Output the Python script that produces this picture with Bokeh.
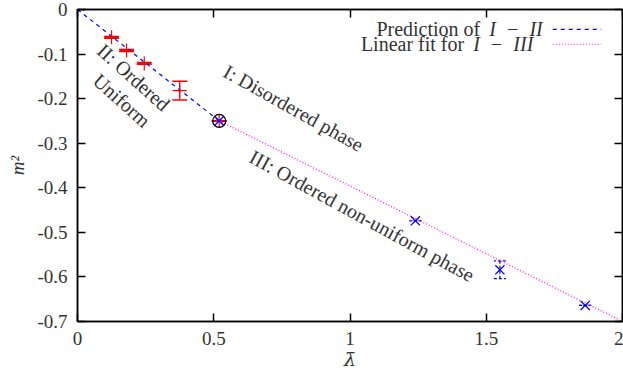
from bokeh.plotting import figure
from bokeh.models import (Range1d, LinearAxis, FixedTicker, Whisker, ColumnDataSource,
                          Label, Arrow, TeeHead)
from bokeh.core.properties import value
from bokeh.embed import file_html
from bokeh.resources import INLINE

# ---- data ----
ordered_x = [0.0, 0.125, 0.18, 0.245, 0.375, 0.52]
ordered_y = [0.0, -0.0625, -0.092, -0.121, -0.182, -0.25]
ordered_err = [0.0, 0.002, 0.002, 0.002, 0.021, 0.0]

nonuni_x = [0.52, 1.24, 1.55, 1.863]
nonuni_y = [-0.25, -0.474, -0.584, -0.664]
nonuni_err = [0.0, 0.0, 0.02, 0.0]

crit_x = [0.52]
crit_y = [-0.25]

pred_x = [0.0, 0.52]
pred_y = [0.0, -0.25]
fit_x = [0.52, 2.0]
fit_y = [-0.25, -0.70]

x_ticks = [0, 0.5, 1, 1.5, 2]
x_tick_labels = ["0", "0.5", "1", "1.5", "2"]
y_ticks = [0, -0.1, -0.2, -0.3, -0.4, -0.5, -0.6, -0.7]
y_tick_labels = ["0", "-0.1", "-0.2", "-0.3", "-0.4", "-0.5", "-0.6", "-0.7"]

legend_labels = ["Prediction of", "Linear fit for"]
legend_math = ["I\u2002\u2212\u2002II", "I\u2002\u2212\u2002III"]

FONT = "Liberation Serif"
FS = "20px"
TXT = "#333333"

p = figure(width=623, height=378, x_range=Range1d(0, 2), y_range=Range1d(-0.7, 0),
           output_backend="svg", toolbar_location=None,
           min_border_left=77, min_border_right=1, min_border_top=9, min_border_bottom=57)
p.grid.visible = False
p.outline_line_color = "black"
p.outline_line_width = 1.5
p.background_fill_color = "white"

xa = p.xaxis[0]
ya = p.yaxis[0]
for ax, ticks, labels in ((xa, x_ticks, x_tick_labels), (ya, y_ticks, y_tick_labels)):
    ax.ticker = FixedTicker(ticks=ticks)
    ax.major_label_overrides = {t: l for t, l in zip(ticks, labels)}
    ax.minor_tick_line_color = None
    ax.major_tick_in = 8
    ax.major_tick_out = 0
    ax.major_tick_line_width = 1.5
    ax.axis_line_width = 1.5
    ax.major_label_text_font = FONT
    ax.major_label_text_font_size = "19px"
    ax.major_label_text_color = TXT
    ax.axis_label_text_font_size = "19px"
    ax.axis_label_text_font_style = "italic"
    ax.axis_label_text_color = TXT
xa.axis_label = "\u03bb\u0304"
xa.axis_label_text_font = "DejaVu Serif"
ya.axis_label = "m\u00b2"
ya.axis_label_text_font = FONT
xa.major_label_standoff = 10
ya.major_label_standoff = 10
xa.axis_label_standoff = 0
ya.axis_label_standoff = 6

for loc, ticks in (("above", x_ticks), ("right", y_ticks)):
    ax = LinearAxis(ticker=FixedTicker(ticks=ticks), major_label_text_font_size="0px",
                    major_label_overrides={t: "" for t in ticks},
                    major_tick_in=8, major_tick_out=0, major_tick_line_width=1.5,
                    minor_tick_line_color=None, axis_line_width=1.5,
                    major_label_standoff=0, axis_label_standoff=0)
    p.add_layout(ax, loc)

# lines
p.line(pred_x, pred_y, line_color="#0000ff", line_dash="4 4", line_width=1.2)
p.line(fit_x, fit_y, line_color="#ff00ff", line_dash="1 2", line_width=1.2)

# ordered uniform points (red)
src_o = ColumnDataSource(dict(x=ordered_x, y=ordered_y,
                              lo=[y - e for y, e in zip(ordered_y, ordered_err)],
                              hi=[y + e for y, e in zip(ordered_y, ordered_err)]))
wo = Whisker(source=src_o, base="x", lower="lo", upper="hi", line_color="#ff0000", line_width=1.2,
             upper_head=TeeHead(size=15, line_color="#ff0000", line_width=1.5),
             lower_head=TeeHead(size=15, line_color="#ff0000", line_width=1.5))
p.add_layout(wo)
p.scatter("x", "y", source=src_o, marker="cross", size=14, line_color="#ff0000", line_width=1.2)

# ordered non-uniform points (blue)
src_n = ColumnDataSource(dict(x=nonuni_x, y=nonuni_y,
                              lo=[y - e for y, e in zip(nonuni_y, nonuni_err)],
                              hi=[y + e for y, e in zip(nonuni_y, nonuni_err)]))
wn = Whisker(source=src_n, base="x", lower="lo", upper="hi", line_color="#0000ff",
             line_width=1.2, line_dash="3 2",
             upper_head=TeeHead(size=12, line_color="#0000ff", line_width=1.2, line_dash="3 2"),
             lower_head=TeeHead(size=12, line_color="#0000ff", line_width=1.2, line_dash="3 2"))
p.add_layout(wn)
p.scatter("x", "y", source=src_n, marker="x", size=13, line_color="#0000ff", line_width=1.3)

# critical point
p.scatter(crit_x, crit_y, marker="circle", size=13, fill_color=None, line_color="black", line_width=1.2)

# region labels
p.text(x=[0.793], y=[-0.221], text=["I: Disordered phase"], angle=-0.51,
       text_font=value(FONT), text_font_size=FS, text_color=TXT,
       text_align="center", text_baseline="middle")
p.text(x=[1.044], y=[-0.463], text=["III: Ordered non-uniform phase"], angle=-0.50,
       text_font=value(FONT), text_font_size=FS, text_color=TXT,
       text_align="center", text_baseline="middle")
p.text(x=[0.206, 0.163], y=[-0.152, -0.204], text=["II: Ordered", "Uniform"], angle=-0.73,
       text_font=value(FONT), text_font_size=FS, text_color=TXT,
       text_align="center", text_baseline="middle")

# legend (text left, sample right)
rows_y = [-0.0447, -0.078]
norm_right = [1.478, 1.419]
math_left = [1.511, 1.452]
colors = ["#0000ff", "#ff00ff"]
dashes = ["4 4", "1 2"]
for i in range(2):
    p.add_layout(Label(x=norm_right[i], y=rows_y[i], text=legend_labels[i], text_align="right",
                       text_baseline="middle", text_font=FONT, text_font_size=FS,
                       text_color=TXT))
    p.add_layout(Label(x=math_left[i], y=rows_y[i], text=legend_math[i], text_align="left",
                       text_baseline="middle", text_font=FONT, text_font_size=FS,
                       text_font_style="italic", text_color=TXT))
    p.add_layout(Arrow(x_start=1.744, y_start=rows_y[i], x_end=1.922, y_end=rows_y[i],
                       end=None, line_color=colors[i], line_dash=dashes[i], line_width=1.2))

open("out.html", "w").write(file_html(p, INLINE))
